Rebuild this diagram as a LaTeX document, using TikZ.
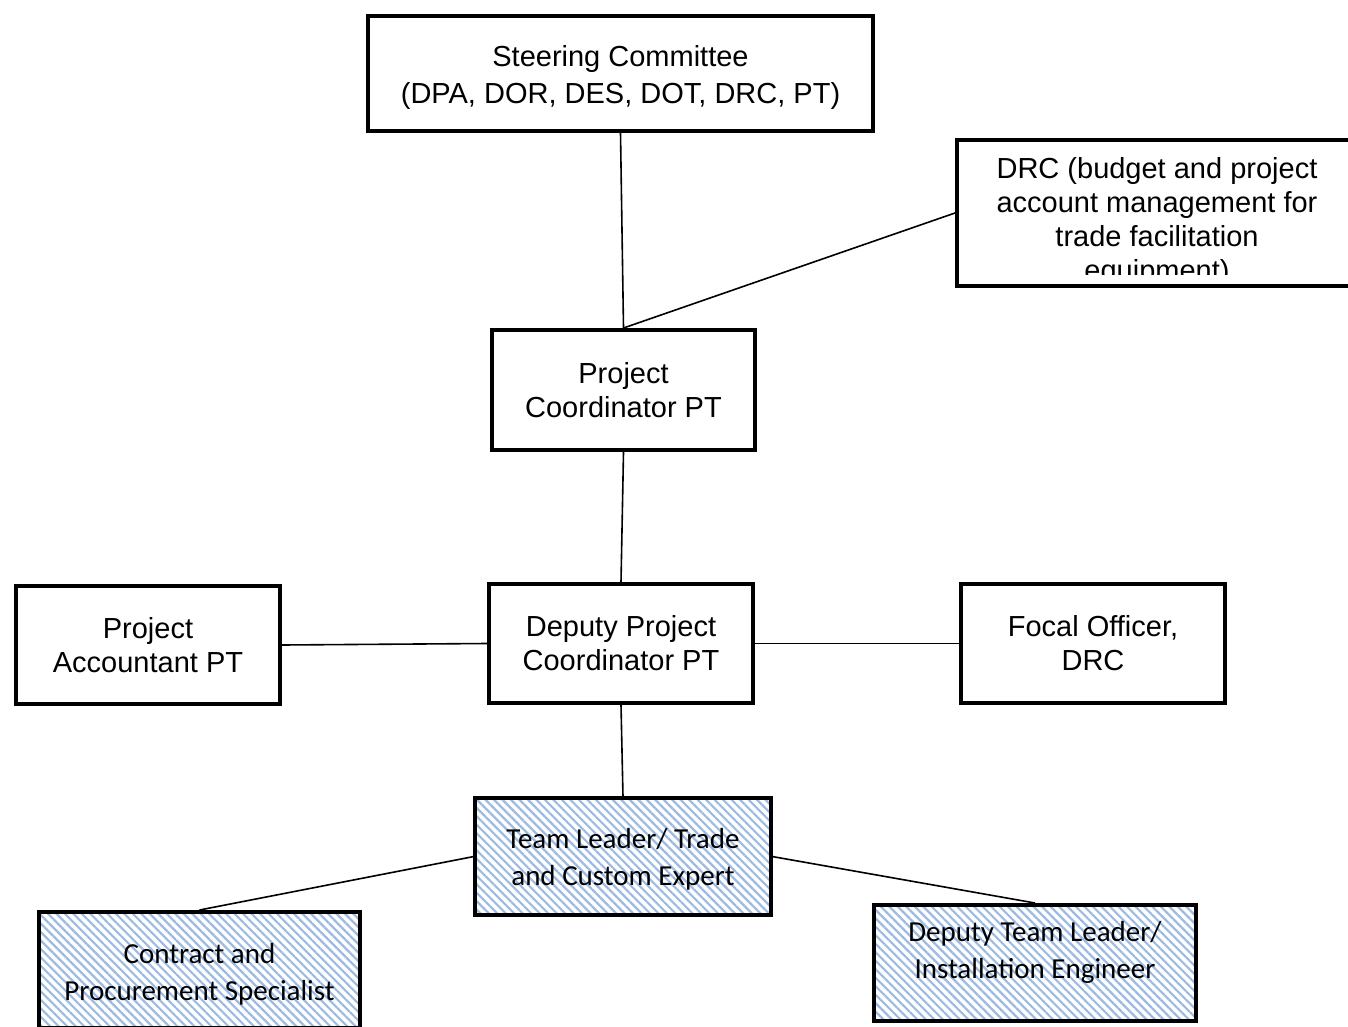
\documentclass[tikz,border=0pt]{standalone}
\usepackage{fontspec}
\setmainfont{Liberation Sans}
\newfontfamily\calibri{Carlito}
\usetikzlibrary{patterns.meta}
\definecolor{hatch}{HTML}{9DBBE2}

\begin{document}
\begin{tikzpicture}[x=1pt, y=-1pt, font=\fontsize{29}{34}\selectfont,
    every node/.style={align=center},
    box/.style={draw=black, line width=4pt, inner sep=0pt},
    hatchbox/.style={box, pattern={Lines[angle=-45,distance=6pt,line width=2.2pt]}, pattern color=hatch},
    calfont/.style={font=\calibri\fontsize{29}{37}\selectfont},
    link/.style={line width=1.6pt}]
    \useasboundingbox (0,0) rectangle (1348,1027);
    \clip (0,0) rectangle (1348,1027);
    % top level
    \node[box, minimum width=505, minimum height=115] (steer) at (620.5,73.5) {};
    \node[font=\fontsize{29}{37}\selectfont] at ([yshift=-4pt]steer.center)
      {Steering Committee\\(DPA, DOR, DES, DOT, DRC, PT)};
    \node[box, minimum width=400, minimum height=146] (drc) at (1157,213) {};
    \begin{scope}
      \clip ([xshift=2pt]drc.north west) rectangle ([yshift=14pt]drc.south east);
      \node at (1157,222) {DRC (budget and project\\account management for\\trade facilitation\\equipment)};
    \end{scope}
    % coordinators
    \node[box, minimum width=263, minimum height=120] (pc) at (623.5,390) {Project\\Coordinator PT};
    \node[box, minimum width=264, minimum height=119] (dpc) at (621,643.5) {Deputy Project\\Coordinator PT};
    \node[box, minimum width=264, minimum height=118] (pa) at (148,645) {Project\\Accountant PT};
    \node[box, minimum width=264, minimum height=119] (fo) at (1093,643.5) {Focal Officer,\\DRC};
    % consultants
    \node[hatchbox, minimum width=296, minimum height=117] (tl) at (623,856.5) {};
    \node[calfont] at ([yshift=-3pt]tl.center) {Team Leader/ Trade\\and Custom Expert};
    \node[hatchbox, minimum width=321, minimum height=116] (cps) at (199.5,970) {};
    \node[calfont] at ([yshift=-4pt]cps.center) {Contract and\\Procurement Specialist};
    \node[hatchbox, minimum width=322, minimum height=116] (dtl) at (1035,963) {};
    \node[calfont] at ([yshift=11pt]dtl.center) {Deputy Team Leader/\\Installation Engineer};
    % links
    \draw[link] (steer.south) -- (pc.north);
    \draw[link] (drc.west) -- (pc.north);
    \draw[link] (pc.south) -- (dpc.north);
    \draw[link] (pa.east) -- (dpc.west);
    \draw[link] (dpc.east) -- (fo.west);
    \draw[link] (dpc.south) -- (tl.north);
    \draw[link] (tl.west) -- (cps.north);
    \draw[link] (tl.east) -- (dtl.north);
  \end{tikzpicture}
\end{document}
